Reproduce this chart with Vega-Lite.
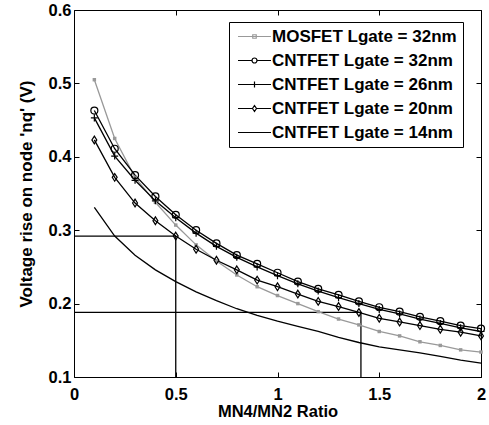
{
  "$schema": "https://vega.github.io/schema/vega-lite/v6.json",
  "width": 407,
  "height": 367,
  "autosize": "none",
  "padding": {"left": 74, "top": 10, "right": 8, "bottom": 48},
  "background": "white",
  "config": {
    "view": {"stroke": "black", "strokeWidth": 1},
    "font": "Liberation Sans",
    "axis": {
      "grid": false,
      "domainColor": "black",
      "tickColor": "black",
      "tickSize": -5,
      "tickWidth": 1,
      "labelFont": "Liberation Sans",
      "labelFontWeight": "bold",
      "labelFontSize": 16.5,
      "labelColor": "black",
      "titleFont": "Liberation Sans",
      "titleFontWeight": "bold",
      "titleFontSize": 16.5,
      "titleColor": "black"
    }
  },
  "datasets": {
    "curves": [
      {"s": "MOSFET Lgate = 32nm", "x": 0.1, "y": 0.505},
      {"s": "MOSFET Lgate = 32nm", "x": 0.2, "y": 0.425},
      {"s": "MOSFET Lgate = 32nm", "x": 0.3, "y": 0.372},
      {"s": "MOSFET Lgate = 32nm", "x": 0.4, "y": 0.338},
      {"s": "MOSFET Lgate = 32nm", "x": 0.5, "y": 0.307},
      {"s": "MOSFET Lgate = 32nm", "x": 0.6, "y": 0.280},
      {"s": "MOSFET Lgate = 32nm", "x": 0.7, "y": 0.258},
      {"s": "MOSFET Lgate = 32nm", "x": 0.8, "y": 0.239},
      {"s": "MOSFET Lgate = 32nm", "x": 0.9, "y": 0.223},
      {"s": "MOSFET Lgate = 32nm", "x": 1.0, "y": 0.211},
      {"s": "MOSFET Lgate = 32nm", "x": 1.1, "y": 0.200},
      {"s": "MOSFET Lgate = 32nm", "x": 1.2, "y": 0.189},
      {"s": "MOSFET Lgate = 32nm", "x": 1.3, "y": 0.179},
      {"s": "MOSFET Lgate = 32nm", "x": 1.4, "y": 0.171},
      {"s": "MOSFET Lgate = 32nm", "x": 1.5, "y": 0.162},
      {"s": "MOSFET Lgate = 32nm", "x": 1.6, "y": 0.156},
      {"s": "MOSFET Lgate = 32nm", "x": 1.7, "y": 0.148},
      {"s": "MOSFET Lgate = 32nm", "x": 1.8, "y": 0.143},
      {"s": "MOSFET Lgate = 32nm", "x": 1.9, "y": 0.137},
      {"s": "MOSFET Lgate = 32nm", "x": 2.0, "y": 0.134},
      {"s": "CNTFET Lgate = 32nm", "x": 0.1, "y": 0.463},
      {"s": "CNTFET Lgate = 32nm", "x": 0.2, "y": 0.411},
      {"s": "CNTFET Lgate = 32nm", "x": 0.3, "y": 0.375},
      {"s": "CNTFET Lgate = 32nm", "x": 0.4, "y": 0.346},
      {"s": "CNTFET Lgate = 32nm", "x": 0.5, "y": 0.321},
      {"s": "CNTFET Lgate = 32nm", "x": 0.6, "y": 0.300},
      {"s": "CNTFET Lgate = 32nm", "x": 0.7, "y": 0.282},
      {"s": "CNTFET Lgate = 32nm", "x": 0.8, "y": 0.266},
      {"s": "CNTFET Lgate = 32nm", "x": 0.9, "y": 0.254},
      {"s": "CNTFET Lgate = 32nm", "x": 1.0, "y": 0.242},
      {"s": "CNTFET Lgate = 32nm", "x": 1.1, "y": 0.230},
      {"s": "CNTFET Lgate = 32nm", "x": 1.2, "y": 0.220},
      {"s": "CNTFET Lgate = 32nm", "x": 1.3, "y": 0.212},
      {"s": "CNTFET Lgate = 32nm", "x": 1.4, "y": 0.203},
      {"s": "CNTFET Lgate = 32nm", "x": 1.5, "y": 0.195},
      {"s": "CNTFET Lgate = 32nm", "x": 1.6, "y": 0.189},
      {"s": "CNTFET Lgate = 32nm", "x": 1.7, "y": 0.182},
      {"s": "CNTFET Lgate = 32nm", "x": 1.8, "y": 0.176},
      {"s": "CNTFET Lgate = 32nm", "x": 1.9, "y": 0.170},
      {"s": "CNTFET Lgate = 32nm", "x": 2.0, "y": 0.166},
      {"s": "CNTFET Lgate = 26nm", "x": 0.1, "y": 0.453},
      {"s": "CNTFET Lgate = 26nm", "x": 0.2, "y": 0.401},
      {"s": "CNTFET Lgate = 26nm", "x": 0.3, "y": 0.368},
      {"s": "CNTFET Lgate = 26nm", "x": 0.4, "y": 0.340},
      {"s": "CNTFET Lgate = 26nm", "x": 0.5, "y": 0.317},
      {"s": "CNTFET Lgate = 26nm", "x": 0.6, "y": 0.296},
      {"s": "CNTFET Lgate = 26nm", "x": 0.7, "y": 0.278},
      {"s": "CNTFET Lgate = 26nm", "x": 0.8, "y": 0.263},
      {"s": "CNTFET Lgate = 26nm", "x": 0.9, "y": 0.250},
      {"s": "CNTFET Lgate = 26nm", "x": 1.0, "y": 0.238},
      {"s": "CNTFET Lgate = 26nm", "x": 1.1, "y": 0.227},
      {"s": "CNTFET Lgate = 26nm", "x": 1.2, "y": 0.217},
      {"s": "CNTFET Lgate = 26nm", "x": 1.3, "y": 0.208},
      {"s": "CNTFET Lgate = 26nm", "x": 1.4, "y": 0.200},
      {"s": "CNTFET Lgate = 26nm", "x": 1.5, "y": 0.192},
      {"s": "CNTFET Lgate = 26nm", "x": 1.6, "y": 0.186},
      {"s": "CNTFET Lgate = 26nm", "x": 1.7, "y": 0.179},
      {"s": "CNTFET Lgate = 26nm", "x": 1.8, "y": 0.173},
      {"s": "CNTFET Lgate = 26nm", "x": 1.9, "y": 0.167},
      {"s": "CNTFET Lgate = 26nm", "x": 2.0, "y": 0.162},
      {"s": "CNTFET Lgate = 20nm", "x": 0.1, "y": 0.423},
      {"s": "CNTFET Lgate = 20nm", "x": 0.2, "y": 0.372},
      {"s": "CNTFET Lgate = 20nm", "x": 0.3, "y": 0.337},
      {"s": "CNTFET Lgate = 20nm", "x": 0.4, "y": 0.313},
      {"s": "CNTFET Lgate = 20nm", "x": 0.5, "y": 0.292},
      {"s": "CNTFET Lgate = 20nm", "x": 0.6, "y": 0.274},
      {"s": "CNTFET Lgate = 20nm", "x": 0.7, "y": 0.259},
      {"s": "CNTFET Lgate = 20nm", "x": 0.8, "y": 0.246},
      {"s": "CNTFET Lgate = 20nm", "x": 0.9, "y": 0.232},
      {"s": "CNTFET Lgate = 20nm", "x": 1.0, "y": 0.223},
      {"s": "CNTFET Lgate = 20nm", "x": 1.1, "y": 0.213},
      {"s": "CNTFET Lgate = 20nm", "x": 1.2, "y": 0.203},
      {"s": "CNTFET Lgate = 20nm", "x": 1.3, "y": 0.196},
      {"s": "CNTFET Lgate = 20nm", "x": 1.4, "y": 0.188},
      {"s": "CNTFET Lgate = 20nm", "x": 1.5, "y": 0.180},
      {"s": "CNTFET Lgate = 20nm", "x": 1.6, "y": 0.175},
      {"s": "CNTFET Lgate = 20nm", "x": 1.7, "y": 0.170},
      {"s": "CNTFET Lgate = 20nm", "x": 1.8, "y": 0.165},
      {"s": "CNTFET Lgate = 20nm", "x": 1.9, "y": 0.161},
      {"s": "CNTFET Lgate = 20nm", "x": 2.0, "y": 0.156},
      {"s": "CNTFET Lgate = 14nm", "x": 0.1, "y": 0.331},
      {"s": "CNTFET Lgate = 14nm", "x": 0.2, "y": 0.292},
      {"s": "CNTFET Lgate = 14nm", "x": 0.3, "y": 0.266},
      {"s": "CNTFET Lgate = 14nm", "x": 0.4, "y": 0.246},
      {"s": "CNTFET Lgate = 14nm", "x": 0.5, "y": 0.230},
      {"s": "CNTFET Lgate = 14nm", "x": 0.6, "y": 0.216},
      {"s": "CNTFET Lgate = 14nm", "x": 0.7, "y": 0.204},
      {"s": "CNTFET Lgate = 14nm", "x": 0.8, "y": 0.193},
      {"s": "CNTFET Lgate = 14nm", "x": 0.9, "y": 0.184},
      {"s": "CNTFET Lgate = 14nm", "x": 1.0, "y": 0.176},
      {"s": "CNTFET Lgate = 14nm", "x": 1.1, "y": 0.169},
      {"s": "CNTFET Lgate = 14nm", "x": 1.2, "y": 0.162},
      {"s": "CNTFET Lgate = 14nm", "x": 1.3, "y": 0.154},
      {"s": "CNTFET Lgate = 14nm", "x": 1.4, "y": 0.147},
      {"s": "CNTFET Lgate = 14nm", "x": 1.5, "y": 0.141},
      {"s": "CNTFET Lgate = 14nm", "x": 1.6, "y": 0.137},
      {"s": "CNTFET Lgate = 14nm", "x": 1.7, "y": 0.133},
      {"s": "CNTFET Lgate = 14nm", "x": 1.8, "y": 0.128},
      {"s": "CNTFET Lgate = 14nm", "x": 1.9, "y": 0.123},
      {"s": "CNTFET Lgate = 14nm", "x": 2.0, "y": 0.119}
    ],
    "guides": [
      {"x": 0, "x2": 0.5, "y": 0.292, "y2": 0.292},
      {"x": 0.5, "x2": 0.5, "y": 0.1, "y2": 0.292},
      {"x": 0, "x2": 1.41, "y": 0.188, "y2": 0.188},
      {"x": 1.41, "x2": 1.41, "y": 0.1, "y2": 0.188}
    ]
  },
  "layer": [
    {
      "data": {"name": "guides"},
      "mark": {"type": "rule", "color": "black", "strokeWidth": 1.3},
      "encoding": {
        "x": {"field": "x", "type": "quantitative", "scale": {"domain": [0, 2], "nice": false, "zero": false},
              "axis": {"orient": "top", "labels": false, "title": null, "values": [0, 0.5, 1, 1.5, 2], "domain": false}},
        "x2": {"field": "x2"},
        "y": {"field": "y", "type": "quantitative", "scale": {"domain": [0.1, 0.6], "nice": false, "zero": false},
              "axis": {"orient": "right", "labels": false, "title": null, "values": [0.1, 0.2, 0.3, 0.4, 0.5, 0.6], "domain": false}},
        "y2": {"field": "y2"}
      }
    },
    {
      "data": {"name": "curves"},
      "mark": {"type": "line", "strokeWidth": 1.3},
      "encoding": {
        "x": {"field": "x", "type": "quantitative",
              "axis": {"orient": "bottom", "title": "MN4/MN2 Ratio", "values": [0, 0.5, 1, 1.5, 2], "format": ".1~f", "labelPadding": 14, "titleY": 34, "titleBaseline": "middle", "domain": false, "labelFlush": false, "labelOverlap": false}},
        "y": {"field": "y", "type": "quantitative",
              "axis": {"orient": "left", "title": "Voltage rise on node 'nq' (V)", "titleFontSize": 17, "values": [0.1, 0.2, 0.3, 0.4, 0.5, 0.6], "labelPadding": 8, "titleX": -48, "titleBaseline": "middle", "domain": false, "format": ".1f", "labelFlush": false, "labelOverlap": false}},
        "color": {
          "field": "s", "type": "nominal",
          "scale": {
            "domain": ["MOSFET Lgate = 32nm", "CNTFET Lgate = 32nm", "CNTFET Lgate = 26nm", "CNTFET Lgate = 20nm", "CNTFET Lgate = 14nm"],
            "range": ["#999999", "#000000", "#000000", "#000000", "#000000"]
          },
          "legend": {
            "orient": "none",
            "legendX": 155,
            "legendY": 12,
            "title": null,
            "strokeColor": "black",
            "fillColor": "white",
            "padding": 6,
            "labelFont": "Liberation Sans",
            "labelFontWeight": "bold",
            "labelFontSize": 17,
            "labelColor": "black",
            "labelLimit": 400,
            "symbolSize": 100,
            "symbolOffset": 11,
            "labelOffset": 9,
            "rowPadding": 6,
            "symbolStrokeWidth": 1.2,
            "encode": {
              "symbols": {
                "update": {
                  "shape": {"signal": "datum.value === 'MOSFET Lgate = 32nm' ? 'M-3.3,0H3.3M-0.35,-0.35H0.35V0.35H-0.35Z' : datum.value === 'CNTFET Lgate = 32nm' ? 'M-3.3,0H-0.5M0.5,0H3.3M-0.5,0A0.5,0.5 0 1,0 0.5,0A0.5,0.5 0 1,0 -0.5,0' : datum.value === 'CNTFET Lgate = 26nm' ? 'M-3.3,0H3.3M0,-0.6V0.6' : datum.value === 'CNTFET Lgate = 20nm' ? 'M-3.3,0H-0.4M0.4,0H3.3M0,-0.6L0.4,0L0,0.6L-0.4,0Z' : 'M-3.3,0H3.3'"},
                  "fill": {"value": "transparent"}
                }
              }
            }
          }
        }
      }
    },
    {
      "data": {"name": "curves"},
      "transform": [{"filter": "datum.s === 'MOSFET Lgate = 32nm'"}],
      "mark": {"type": "square", "color": "#999999", "size": 12, "opacity": 1},
      "encoding": {
        "x": {"field": "x", "type": "quantitative", "axis": null},
        "y": {"field": "y", "type": "quantitative", "axis": null}
      }
    },
    {
      "data": {"name": "curves"},
      "transform": [{"filter": "datum.s !== 'MOSFET Lgate = 32nm' && datum.s !== 'CNTFET Lgate = 14nm'"}],
      "mark": {"type": "point", "filled": false, "stroke": "black", "strokeWidth": 1.2, "size": 49, "opacity": 1},
      "encoding": {
        "x": {"field": "x", "type": "quantitative", "axis": null},
        "y": {"field": "y", "type": "quantitative", "axis": null},
        "shape": {
          "field": "s", "type": "nominal",
          "scale": {
            "domain": ["CNTFET Lgate = 32nm", "CNTFET Lgate = 26nm", "CNTFET Lgate = 20nm"],
            "range": ["circle", "M-1,0H1M0,-1V1", "M0,-1.1L0.7,0L0,1.1L-0.7,0Z"]
          },
          "legend": null
        }
      }
    }
  ]
}
